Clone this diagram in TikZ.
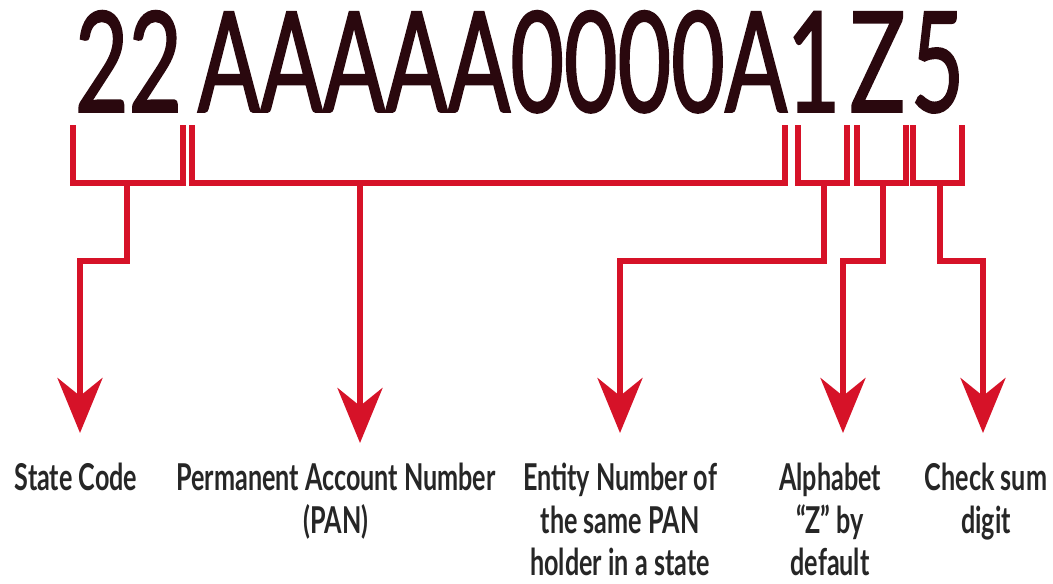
\documentclass[tikz,border=0pt]{standalone}
\usepackage{fontspec}
\setmainfont{Lato}
\newfontfamily\bigfont[FakeStretch=0.66,FakeBold=1.2]{Lato}
\newfontfamily\labfont[FakeStretch=0.68]{Lato}
\usetikzlibrary{arrows.meta}
\definecolor{pinred}{RGB}{214,18,40}
\definecolor{digitcol}{RGB}{42,8,14}
\definecolor{labcol}{RGB}{38,38,38}
\begin{document}
\begin{tikzpicture}[x=1pt,y=-1pt,
  digits/.style={inner sep=0pt, anchor=base, text=digitcol, font=\bigfont\fontsize{140}{140}\selectfont},
  lab/.style={inner sep=0pt, anchor=north, align=center, text=labcol, font=\labfont\bfseries\fontsize{37}{42.5}\selectfont},
  brk/.style={draw=pinred, line width=6pt, line cap=butt, line join=miter},
  conn/.style={brk, -{Stealth[length=55pt,width=45pt,inset=18pt]}}]
\fill[white] (0,0) rectangle (1053,584);
\useasboundingbox (0,0) rectangle (1053,584);

% code characters
\node[digits] (sc) at (128.5,112) {22};
\node[digits] (pan) at (492.5,112) {AAAAA0000A};
\node[digits] (en) at (813.5,112) {1};
\node[digits] (al) at (877.5,112) {Z};
\node[digits] (ck) at (937.5,112) {5};

% bracket corners
\coordinate (b1l) at (73,125);  \coordinate (b1r) at (183,125);
\coordinate (b2l) at (192,125); \coordinate (b2r) at (785,125);
\coordinate (b3l) at (798,125); \coordinate (b3r) at (847,125);
\coordinate (b4l) at (857,125); \coordinate (b4r) at (906,125);
\coordinate (b5l) at (913,125); \coordinate (b5r) at (962,125);

% stem starts
\coordinate (s1) at (127,183);
\coordinate (s2) at (360,183);
\coordinate (s3) at (824,183);
\coordinate (s4) at (883,183);
\coordinate (s5) at (940,183);

% arrow tips
\coordinate (t1) at (80,433);
\coordinate (t2) at (360,443);
\coordinate (t3) at (620,433);
\coordinate (t4) at (843,433);
\coordinate (t5) at (983,433);

% brackets
\foreach \i in {1,...,5}{
  \draw[brk] (b\i l) -- ++(0,58) -| (b\i r);
}

% connectors
\draw[conn] (s1) -- ++(0,78) -| (t1);
\draw[conn] (s2) -- (t2);
\draw[conn] (s3) -- ++(0,78) -| (t3);
\draw[conn] (s4) -- ++(0,78) -| (t4);
\draw[conn] (s5) -- ++(0,78) -| (t5);

% labels
\node[lab] (l1) at (76,463) {State Code};
\node[lab] (l2) at (336,463) {Permanent Account Number\\(PAN)};
\node[lab] (l3) at (620,463) {Entity Number of\\the same PAN\\holder in a state};
\node[lab] (l4) at (830,463) {Alphabet\\“Z” by\\default};
\node[lab] (l5) at (986,463) {Check sum\\digit};
\end{tikzpicture}
\end{document}
